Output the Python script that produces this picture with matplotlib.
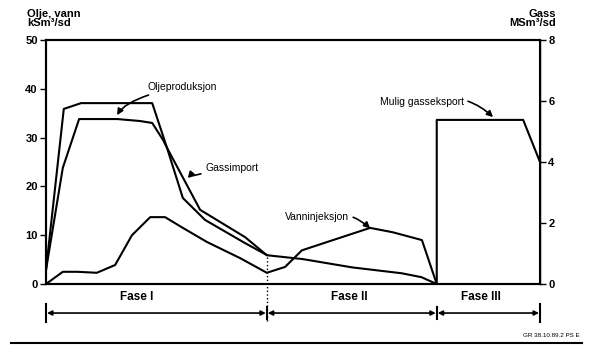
import numpy as np
import matplotlib
matplotlib.use('Agg')
import matplotlib.pyplot as plt
import matplotlib.transforms as mtransforms

plt.rcParams['font.family'] = ['Liberation Sans', 'DejaVu Sans']

# time axis runs 0..100 (no ticks), phase boundaries
phase_bounds = [0, 44.7, 79.1, 100]
phase_names = ['Fase I', 'Fase II', 'Fase III']
phase_label_x = [18.3, 61.5, 88.1]

# oil production, kSm3/sd (left axis)
oil_x = [0, 3.4, 6.7, 14.4, 19.0, 21.5, 23.7, 24.5, 31.2, 40.3, 44.7, 52.0, 62.0, 72.0, 76.0, 79.1]
oil_y = [2.9, 23.8, 33.8, 33.8, 33.4, 33.0, 29.5, 27.9, 15.2, 9.6, 5.9, 5.1, 3.4, 2.2, 1.4, 0]

# water injection, kSm3/sd (left axis)
water_x = [0, 3.4, 6.3, 10.3, 14.0, 17.4, 21.1, 24.1, 27.7, 32.6, 39.3, 44.7, 48.4, 51.8, 56.9, 65.6, 70.2, 76.1, 79.1]
water_y = [0, 2.5, 2.5, 2.3, 3.9, 10.0, 13.7, 13.7, 11.5, 8.6, 5.3, 2.3, 3.5, 6.9, 8.6, 11.5, 10.6, 9.0, 0]

# gas import, MSm3/sd (right axis)
gimp_x = [0, 3.6, 7.1, 21.5, 24.5, 27.7, 32.2, 40.3, 44.7]
gimp_y = [0.46, 5.74, 5.93, 5.93, 4.46, 2.82, 2.10, 1.34, 0.95]

# possible gas export, MSm3/sd (right axis)
gexp_x = [79.1, 79.1, 96.6, 100]
gexp_y = [0, 5.38, 5.38, 4.0]

left_ticks = [0, 10, 20, 30, 40, 50]
right_ticks = [0, 2, 4, 6, 8]

fig = plt.figure(figsize=(6.03, 3.58), dpi=100)
ax = fig.add_axes([0.0763, 0.2067, 0.8192, 0.6816])
ax2 = ax.twinx()

lw = 1.5
ax.plot(oil_x, oil_y, color='black', lw=lw)
ax.plot(water_x, water_y, color='black', lw=lw)
ax2.plot(gimp_x, gimp_y, color='black', lw=lw)
ax2.plot(gexp_x, gexp_y, color='black', lw=lw, clip_on=False)

ax.set_xlim(0, 100)
ax.set_ylim(0, 50)
ax2.set_ylim(0, 8)
ax.set_xticks([])
ax.set_yticks(left_ticks)
ax2.set_yticks(right_ticks)
ax.tick_params(axis='y', direction='out', length=4, width=1, pad=2, labelsize=8)
ax2.tick_params(axis='y', direction='out', length=4, width=1, pad=2, labelsize=8)
for lab in ax.get_yticklabels() + ax2.get_yticklabels():
    lab.set_fontweight('bold')
for a in (ax, ax2):
    for s in a.spines.values():
        s.set_linewidth(1.5)
ax2.spines['right'].set_linewidth(1.0)
ax2.spines['right'].set_linestyle((0, (2, 1)))

# axis titles
fig.text(0.045, 0.975, 'Olje, vann\nkSm³/sd', ha='left', va='top', fontsize=8,
         fontweight='bold', linespacing=0.85)
fig.text(0.922, 0.975, 'Gass\nMSm³/sd', ha='right', va='top', fontsize=8,
         fontweight='bold', linespacing=0.85)

# annotations
arrow = dict(arrowstyle='-|>', color='black', lw=1.2, mutation_scale=9,
             shrinkA=1, shrinkB=0)
ax.annotate('Oljeproduksjon', xy=(14.4, 34.6), xytext=(20.6, 40.4), fontsize=7.5,
            ha='left', va='center',
            arrowprops=dict(arrow, connectionstyle='angle3,angleA=10,angleB=60'))
ax.annotate('Gassimport', xy=(28.7, 21.7), xytext=(32.2, 23.8), fontsize=7.5,
            ha='left', va='center',
            arrowprops=dict(arrow, connectionstyle='angle3,angleA=10,angleB=50'))
ax.annotate('Vanninjeksjon', xy=(65.6, 11.4), xytext=(48.4, 13.7), fontsize=7.5,
            ha='left', va='center',
            arrowprops=dict(arrow, connectionstyle='arc3,rad=-0.3'))
ax.annotate('Mulig gasseksport', xy=(90.5, 34.2), xytext=(67.6, 37.3), fontsize=7.5,
            ha='left', va='center',
            arrowprops=dict(arrow, connectionstyle='arc3,rad=-0.3'))

# dotted phase I/II separator
ax.plot([44.7, 44.7], [-7.5, 5.9], color='black', lw=1, ls=':', clip_on=False)

# phase arrows below the axis
trans = mtransforms.blended_transform_factory(ax.transData, ax.transAxes)
ya = -0.119
for i in range(3):
    ax.annotate('', xy=(phase_bounds[i] + 0.2, ya), xytext=(phase_bounds[i + 1] - 0.2, ya),
                xycoords=trans, textcoords=trans,
                arrowprops=dict(arrowstyle='<|-|>', color='black', lw=1.2,
                                mutation_scale=7, shrinkA=0, shrinkB=0))
    ax.text(phase_label_x[i], -0.055, phase_names[i], transform=trans, ha='center',
            va='center', fontsize=8.5, fontweight='bold')
for xb, h in zip(phase_bounds, [0.035, 0.025, 0.025, 0.035]):
    ax.plot([xb, xb], [ya - h, ya + h], color='black', lw=1.5, transform=trans,
            clip_on=False)

# footer rule and reference code
fig.add_artist(plt.Line2D([0.018, 0.965], [0.042, 0.042], color='black', lw=1.5))
fig.text(0.962, 0.055, 'GR 38.10.89.2 PS E', ha='right', va='bottom', fontsize=4.5)

fig.savefig('out.png', dpi=100)
